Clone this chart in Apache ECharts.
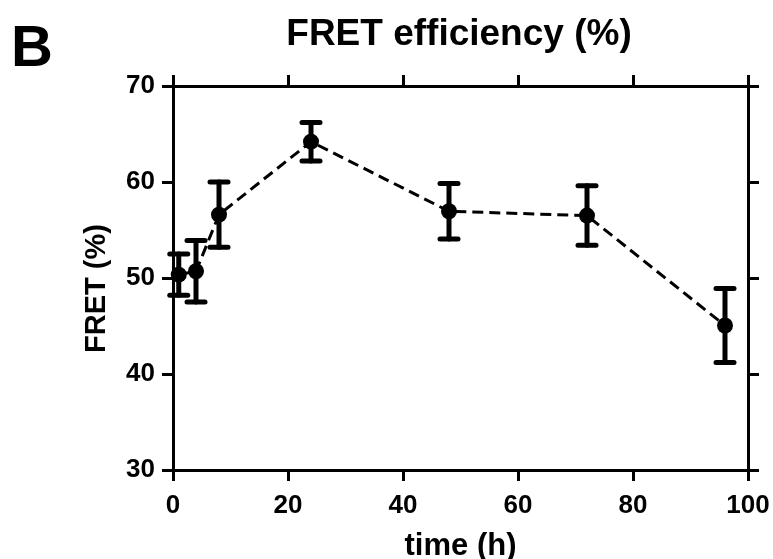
<!DOCTYPE html>
<html>
<head>
<meta charset="utf-8">
<script src="https://cdn.jsdelivr.net/npm/echarts@6/dist/echarts.min.js"></script>
<style>
html,body{margin:0;padding:0;background:#fff;}
#chart{width:773px;height:559px;}
</style>
</head>
<body>
<div id="chart"></div>
<script>
// ---- data ----
var times = [1, 4, 8, 24, 48, 72, 96];
var fretMean = [50.35, 50.7, 56.6, 64.2, 56.95, 56.5, 45.05];
var fretErr = [2.15, 3.2, 3.4, 2.0, 2.9, 3.1, 3.85];
var xTicks = [0, 20, 40, 60, 80, 100];
var yTicks = [30, 40, 50, 60, 70];
var titleText = 'FRET efficiency (%)';
var panelLetter = 'B';
var xName = 'time (h)';
var yName = 'FRET (%)';

var FONT = "'Liberation Sans', Arial, Helvetica, sans-serif";

var chart = echarts.init(document.getElementById('chart'), null, {renderer: 'canvas'});

var meanData = times.map(function (t, i) { return [t, fretMean[i]]; });
var errData = times.map(function (t, i) { return [t, fretMean[i] - fretErr[i], fretMean[i] + fretErr[i]]; });

function axisCommon(showLabel, margin) {
  return {
    axisLine: {show: true, onZero: false, lineStyle: {color: '#000', width: 3}},
    axisTick: {show: true, inside: false, length: 11, lineStyle: {color: '#000', width: 3}},
    splitLine: {show: false},
    axisLabel: {show: showLabel, color: '#000', fontFamily: FONT, fontWeight: 'bold', fontSize: 26, margin: margin}
  };
}

var xBottom = Object.assign(axisCommon(true, 23), {
  type: 'value', position: 'bottom', min: xTicks[0], max: xTicks[xTicks.length - 1], interval: 20,
  name: xName, nameLocation: 'middle', nameGap: 61,
  nameTextStyle: {color: '#000', fontFamily: FONT, fontWeight: 'bold', fontSize: 31}
});
var xTop = Object.assign(axisCommon(false, 8), {
  type: 'value', position: 'top', min: xTicks[0], max: xTicks[xTicks.length - 1], interval: 20
});
var yLeft = Object.assign(axisCommon(true, 18), {
  type: 'value', position: 'left', min: yTicks[0], max: yTicks[yTicks.length - 1], interval: 10,
  name: yName, nameLocation: 'middle', nameGap: 62, nameRotate: 90,
  nameTextStyle: {color: '#000', fontFamily: FONT, fontWeight: 'bold', fontSize: 29, padding: [0, 21, 0, 0]}
});
var yRight = Object.assign(axisCommon(false, 8), {
  type: 'value', position: 'right', min: yTicks[0], max: yTicks[yTicks.length - 1], interval: 10
});

var option = {
  backgroundColor: '#fff',
  animation: false,
  title: {
    text: titleText, left: 454, top: 11, textAlign: 'center',
    textStyle: {color: '#000', fontFamily: FONT, fontWeight: 'bold', fontSize: 37}
  },
  graphic: [{
    type: 'text', left: 11, top: 21,
    style: {text: panelLetter, fill: '#000', font: 'bold 58px ' + FONT}
  }],
  grid: {left: 173, right: 25, top: 86, bottom: 89, containLabel: false, outerBoundsMode: 'none'},
  xAxis: [xBottom, xTop],
  yAxis: [yLeft, yRight],
  series: [
    {
      type: 'custom',
      xAxisIndex: 0, yAxisIndex: 0,
      data: errData,
      z: 3,
      renderItem: function (params, api) {
        var x = api.value(0);
        var lo = api.coord([x, api.value(1)]);
        var hi = api.coord([x, api.value(2)]);
        var hw = 9;
        var style = {stroke: '#000', lineWidth: 5, lineCap: 'round'};
        return {
          type: 'group',
          children: [
            {type: 'line', shape: {x1: lo[0], y1: lo[1], x2: hi[0], y2: hi[1]}, style: style},
            {type: 'line', shape: {x1: lo[0] - hw, y1: lo[1], x2: lo[0] + hw, y2: lo[1]}, style: style},
            {type: 'line', shape: {x1: hi[0] - hw, y1: hi[1], x2: hi[0] + hw, y2: hi[1]}, style: style}
          ]
        };
      }
    },
    {
      type: 'line',
      xAxisIndex: 0, yAxisIndex: 0,
      data: meanData,
      z: 4,
      symbol: 'circle', symbolSize: 16,
      itemStyle: {color: '#000'},
      lineStyle: {color: '#000', width: 3, type: [11, 6]}
    }
  ]
};
chart.setOption(option);
</script>
</body>
</html>
